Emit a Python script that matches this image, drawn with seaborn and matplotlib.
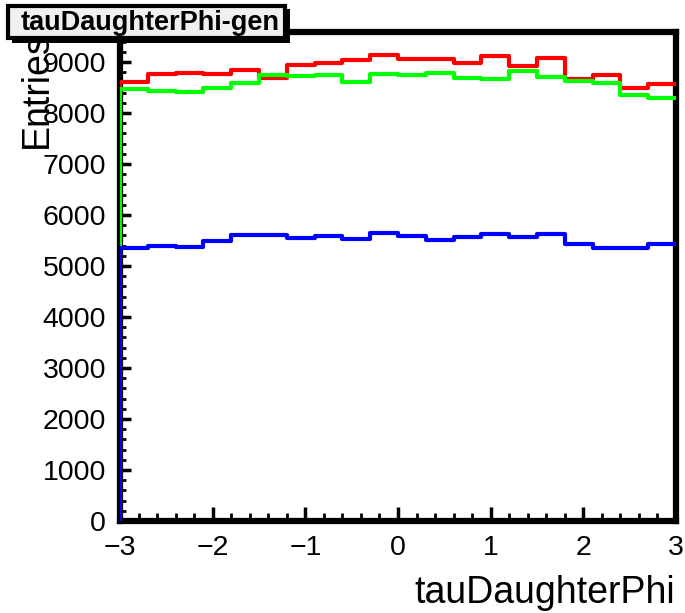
import numpy as np
import pandas as pd
import matplotlib
matplotlib.use("Agg")
import matplotlib.pyplot as plt
from matplotlib.patches import Rectangle
from matplotlib.ticker import MultipleLocator
import seaborn as sns

# Binning of the generated tau-daughter phi distribution
phi_low, phi_high, n_bins = -3.0, 3.0, 20

# Entries per bin for the three samples
red_counts = [8600, 8765, 8785, 8760, 8853, 8693, 8935, 8990, 9050, 9135,
              9068, 9068, 8977, 9115, 8918, 9075, 8660, 8755, 8487, 8572]
green_counts = [8478, 8432, 8410, 8487, 8585, 8748, 8725, 8752, 8605, 8760,
                8745, 8791, 8686, 8673, 8830, 8712, 8634, 8582, 8359, 8300]
blue_counts = [5346, 5399, 5379, 5490, 5614, 5614, 5542, 5595, 5523, 5640,
               5595, 5503, 5569, 5621, 5575, 5621, 5438, 5359, 5346, 5431]

x_ticks = [-3, -2, -1, 0, 1, 2, 3]
x_tick_labels = ["\u22123", "\u22122", "\u22121", "0", "1", "2", "3"]
y_ticks = [0, 1000, 2000, 3000, 4000, 5000, 6000, 7000, 8000, 9000]
y_tick_labels = ["0", "1000", "2000", "3000", "4000", "5000", "6000", "7000", "8000", "9000"]

title_text = "tauDaughterPhi-gen"
x_title = "tauDaughterPhi"
y_title = "Entries"

sns.set_theme(style="ticks")
plt.rcParams["font.family"] = ["Liberation Sans", "DejaVu Sans"]

W, H = 685, 613
fig = plt.figure(figsize=(W / 100, H / 100), dpi=100)
fig.patch.set_facecolor("white")
ax = fig.add_axes([120 / W, 1 - 521 / H, 556 / W, 489 / H])
ax.set_facecolor("white")

edges = np.linspace(phi_low, phi_high, n_bins + 1)
centers = 0.5 * (edges[:-1] + edges[1:])

for counts, color in [(red_counts, "#ff0000"),
                      (green_counts, "#00ff00"),
                      (blue_counts, "#0000ff")]:
    df = pd.DataFrame({"phi": centers, "n": counts})
    sns.histplot(data=df, x="phi", weights="n", bins=n_bins,
                 binrange=(phi_low, phi_high), element="step",
                 fill=False, color=color, linewidth=3, zorder=3, ax=ax)
    # rising edge of the outline from zero at the lower bound
    ax.vlines(edges[0], 0, counts[0], color=color, lw=3, zorder=3)

ax.set_xlim(phi_low, phi_high)
ax.set_ylim(0, 9590)
ax.set_xlabel("")
ax.set_ylabel("")
ax.set_xticks(x_ticks, x_tick_labels)
ax.set_yticks(y_ticks, y_tick_labels)
ax.xaxis.set_minor_locator(MultipleLocator(0.2))
ax.yaxis.set_minor_locator(MultipleLocator(200))
ax.grid(False)

ax.tick_params(which="both", direction="in", color="black", labelcolor="black",
               labelsize=20.5, top=False, right=False)
ax.tick_params(axis="x", which="major", length=10, width=2.5, pad=10)
ax.tick_params(axis="x", which="minor", length=6, width=2)
ax.tick_params(axis="y", which="major", length=8, width=2.5, pad=10)
ax.tick_params(axis="y", which="minor", length=4, width=2)

for s in ax.spines.values():
    s.set_visible(True)
    s.set_linewidth(4.5)
    s.set_color("black")

# axis titles
fig.text(675 / W, 1 - 603 / H, x_title, fontsize=27, ha="right", va="baseline",
         color="black")
fig.text(37 / W, 1 - 31 / H, y_title, fontsize=27, rotation=90, ha="center",
         va="top", color="black", zorder=5)

# title pave with shadow
fig.add_artist(Rectangle((12 / W, 1 - 43 / H), (290 - 12) / W, (43 - 9) / H,
                         transform=fig.transFigure, fc="black", ec="none", zorder=10))
fig.add_artist(Rectangle((8 / W, 1 - 38 / H), (285 - 8) / W, (38 - 6) / H,
                         transform=fig.transFigure, fc="#f0f0f0", ec="black",
                         lw=3, zorder=11))
fig.text(21 / W, 1 - 30 / H, title_text, fontsize=19.5, fontweight="bold",
         ha="left", va="baseline", color="black", zorder=12)

fig.savefig("out.png", dpi=100)
